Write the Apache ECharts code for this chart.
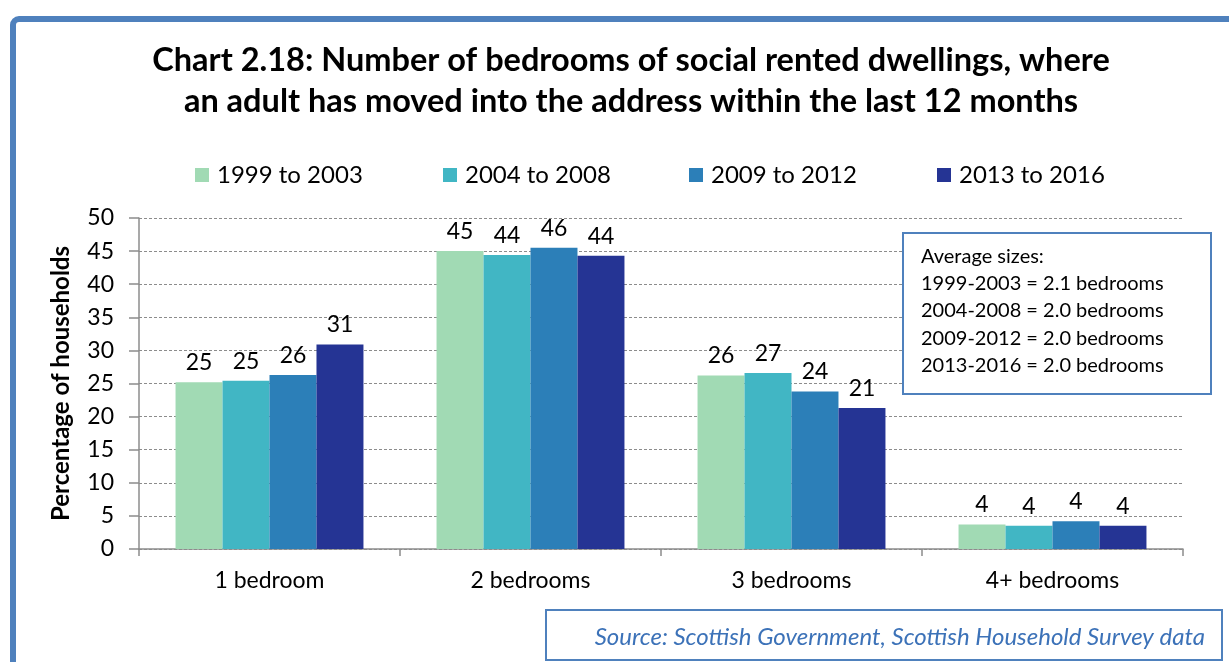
<!DOCTYPE html>
<html>
<head>
<meta charset="utf-8">
<script src="https://cdn.jsdelivr.net/npm/echarts@6/dist/echarts.min.js"></script>
<style>
  html, body { margin: 0; padding: 0; background: #fff; }
  #chart { width: 1229px; height: 662px; }
</style>
</head>
<body>
<div id="chart"></div>
<script>
// Bedroom categories and survey periods
const categories = ['1 bedroom', '2 bedrooms', '3 bedrooms', '4+ bedrooms'];
const periods = ['1999 to 2003', '2004 to 2008', '2009 to 2012', '2013 to 2016'];

// Percentage of households, one array per period
const p1999 = [25.2, 45.0, 26.2, 3.7];
const p2004 = [25.4, 44.4, 26.6, 3.5];
const p2009 = [26.3, 45.5, 23.8, 4.2];
const p2013 = [30.9, 44.3, 21.3, 3.5];

const yTicks = [0, 5, 10, 15, 20, 25, 30, 35, 40, 45, 50];

const averageLines = [
  'Average sizes:',
  '1999-2003 = 2.1 bedrooms',
  '2004-2008 = 2.0 bedrooms',
  '2009-2012 = 2.0 bedrooms',
  '2013-2016 = 2.0 bedrooms'
];

const colors = ['#A1DAB4', '#41B6C4', '#2C7FB8', '#253494'];
const FONT = 'Lato, "Open Sans", sans-serif';

const seriesValues = [p1999, p2004, p2009, p2013];

// one legend per period, spaced evenly across the top
const legendLefts = [195, 443, 689, 937];

const chart = echarts.init(document.getElementById('chart'), null, { renderer: 'canvas' });

chart.setOption({
  animation: false,
  color: colors,
  title: {
    text: 'Chart 2.18: Number of bedrooms of social rented dwellings, where\nan adult has moved into the address within the last 12 months',
    left: 626,
    textAlign: 'center',
    top: 35,
    textStyle: { fontFamily: FONT, fontWeight: 'bold', fontSize: 32.5, lineHeight: 41, color: '#000' }
  },
  legend: periods.map((name, i) => ({
    data: [name],
    top: 163,
    left: legendLefts[i],
    padding: 0,
    itemWidth: 14,
    itemHeight: 14,
    icon: 'rect',
    textStyle: { fontFamily: FONT, fontSize: 24, color: '#000', padding: [0, 0, 0, 3] }
  })),
  grid: { left: 139, top: 218, width: 1044, height: 331, containLabel: false },
  xAxis: {
    type: 'category',
    data: categories,
    axisLine: { lineStyle: { color: '#8c8c8c', width: 1.5 } },
    axisTick: { show: true, length: 7, lineStyle: { color: '#8c8c8c', width: 1.5 } },
    axisLabel: { fontFamily: FONT, fontSize: 23, color: '#000', margin: 20 }
  },
  yAxis: {
    type: 'value',
    min: 0,
    max: 50,
    interval: 5,
    name: 'Percentage of households',
    nameLocation: 'middle',
    nameGap: 66,
    nameTextStyle: { fontFamily: FONT, fontWeight: 'bold', fontSize: 24, color: '#000' },
    axisLine: { show: true, lineStyle: { color: '#8c8c8c', width: 1.5 } },
    axisTick: { show: true, length: 10, lineStyle: { color: '#8c8c8c', width: 1.5 } },
    axisLabel: {
      fontFamily: FONT, fontSize: 23, color: '#000', margin: 25,
      formatter: v => (yTicks.includes(v) ? String(v) : '')
    },
    splitLine: { lineStyle: { color: '#8c8c8c', type: [3, 2], width: 1 } }
  },
  series: periods.map((name, i) => ({
    name,
    type: 'bar',
    data: seriesValues[i],
    barGap: '0%',
    barCategoryGap: '28%',
    itemStyle: { color: colors[i] },
    label: {
      show: true,
      position: 'top',
      distance: 8,
      fontFamily: FONT,
      fontSize: 23,
      color: '#000',
      formatter: p => Math.round(p.value)
    }
  })),
  graphic: [
    // outer frame
    {
      type: 'rect',
      shape: { x: 13, y: 19, width: 1250, height: 700, r: 6 },
      style: { fill: 'none', stroke: '#4F81BD', lineWidth: 6 },
      silent: true
    },
    // average sizes box
    {
      type: 'rect',
      shape: { x: 903, y: 233, width: 308, height: 161 },
      style: { fill: '#fff', stroke: '#4F81BD', lineWidth: 2 },
      z: 100
    },
    {
      type: 'text',
      x: 921,
      y: 243,
      z: 101,
      style: {
        text: averageLines.join('\n'),
        font: '20px ' + FONT,
        lineHeight: 27.2,
        fill: '#000'
      }
    },
    // source box
    {
      type: 'rect',
      shape: { x: 546, y: 610, width: 676, height: 50 },
      style: { fill: '#fff', stroke: '#4F81BD', lineWidth: 2 },
      z: 100
    },
    {
      type: 'text',
      x: 1205,
      y: 637,
      z: 101,
      style: {
        text: 'Source: Scottish Government, Scottish Household Survey data',
        font: 'italic 24px ' + FONT,
        fill: '#3C72B8',
        align: 'right',
        verticalAlign: 'middle'
      }
    }
  ]
});
</script>
</body>
</html>
